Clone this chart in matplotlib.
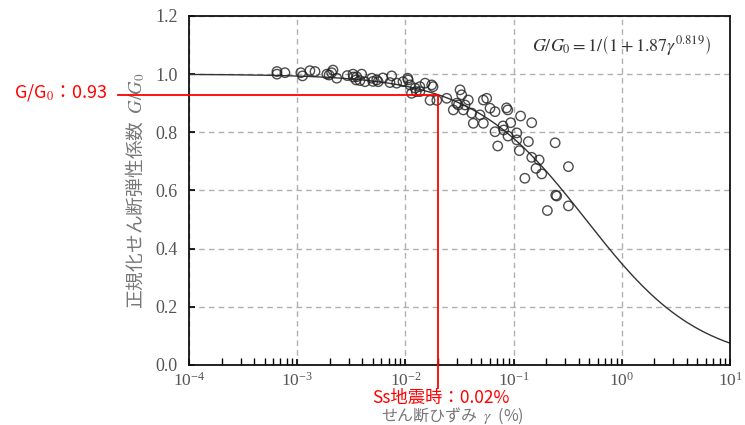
import numpy as np
import matplotlib
matplotlib.use("Agg")
import matplotlib.pyplot as plt

plt.rcParams['font.family'] = ['Liberation Serif', 'Noto Sans CJK JP', 'DejaVu Sans']
plt.rcParams['mathtext.fontset'] = 'stix'

# measured points (shear strain %, G/G0)
gamma = [6.5e-4, 7.7e-4, 6.5e-4, 1.08e-3, 1.12e-3, 1.31e-3, 1.46e-3, 1.88e-3, 2.08e-3, 2.14e-3,
         2.32e-3, 1.97e-3, 3.28e-3, 3.55e-3, 3.94e-3, 3.8e-3, 4.23e-3, 3.5e-3, 4.89e-3, 5.43e-3,
         6.2e-3, 5.6e-3, 7.46e-3, 7.2e-3, 8.3e-3, 9.5e-3, 1.06e-2, 1.05e-2, 1.14e-2, 1.10e-2,
         1.23e-2, 1.36e-2, 1.26e-2, 1.36e-2, 1.52e-2, 1.75e-2, 1.80e-2, 1.69e-2, 1.95e-2, 2.41e-2,
         3.2e-2, 3.31e-2, 2.98e-2, 3.81e-2, 2.77e-2, 3.08e-2, 3.56e-2, 3.43e-2, 4.1e-2, 4.24e-2,
         5.25e-2, 4.89e-2, 5.25e-2, 5.64e-2, 6.05e-2, 6.73e-2, 8.83e-2, 8.6e-2, 9.4e-2, 0.116,
         0.147, 0.0673, 0.0798, 0.0887, 0.107, 0.107, 0.137, 0.0713, 0.113, 0.147,
         0.172, 0.161, 0.182, 0.242, 0.321, 0.127, 0.25, 0.245, 0.321, 0.205,
         0.081, 2.9e-3, 3.3e-3, 5.0e-3]
ratio = [1.009, 1.005, 1.000, 1.005, 0.994, 1.012, 1.009, 1.000, 1.005, 1.014,
         0.986, 0.997, 1.000, 0.991, 1.000, 0.978, 0.974, 0.980, 0.986, 0.980,
         0.987, 0.974, 0.994, 0.971, 0.969, 0.974, 0.980, 0.986, 0.934, 0.963,
         0.952, 0.957, 0.940, 0.940, 0.969, 0.963, 0.957, 0.910, 0.910, 0.917,
         0.946, 0.929, 0.900, 0.911, 0.877, 0.894, 0.894, 0.877, 0.866, 0.831,
         0.831, 0.860, 0.911, 0.917, 0.883, 0.871, 0.877, 0.884, 0.833, 0.856,
         0.833, 0.802, 0.822, 0.787, 0.798, 0.774, 0.768, 0.753, 0.737, 0.714,
         0.705, 0.676, 0.657, 0.764, 0.682, 0.642, 0.581, 0.584, 0.547, 0.531,
         0.808, 0.995, 0.990, 0.975]

# fitted curve parameters
coef_a = 1.87
coef_b = 0.819
gamma_ss = 0.02
g_ss = 0.93

fig = plt.figure(figsize=(7.45, 4.25), dpi=100)
ax = fig.add_axes([0.2537, 0.1412, 0.7262, 0.8212])

xs = np.logspace(-4, 1, 400)
ax.plot(xs, 1 / (1 + coef_a * xs ** coef_b), color='#333333', lw=1.0, zorder=2)
ax.scatter(gamma, ratio, s=46, facecolors='none', edgecolors='#222222',
           linewidths=1.0, alpha=0.8, zorder=3)

ax.set_xscale('log')
ax.set_xlim(1e-4, 10)
ax.set_ylim(0, 1.2)
ax.set_yticks(np.arange(0, 1.21, 0.2))
ax.set_yticklabels(['%.1f' % v for v in np.arange(0, 1.21, 0.2)])
ax.grid(True, which='major', color='#b0b0b0', ls=(0, (4, 3)), lw=1.0)
ax.tick_params(which='both', direction='in', labelsize=13, labelcolor='#555555',
               top=False, right=False)
ax.tick_params(which='major', length=4, width=1.2, pad=8)
ax.tick_params(axis='x', which='major', pad=5, labelsize=12.5)
ax.tick_params(which='minor', length=5, width=1.0)
for sp in ax.spines.values():
    sp.set_linewidth(1.3)
    sp.set_color('#111111')

ax.text(0.965, 0.915, r'$G/G_0=1/\left(1+1.87\gamma^{0.819}\right)$', transform=ax.transAxes,
        ha='right', va='center', fontsize=13, color='#333333')

ax.set_ylabel('正規化せん断弾性係数  $G/G_0$', family=['Noto Sans CJK JP'],
              fontsize=13.5, color='#777777', labelpad=6)
fig.text(0.607, 0.0212, 'せん断ひずみ  $\\gamma$  (%)', family=['Noto Sans CJK JP'],
         fontsize=11.5, color='#777777', ha='center', va='center')

# red annotation lines
ax.plot([10 ** -4.656, gamma_ss], [g_ss, g_ss], color='red', lw=1.3, clip_on=False, zorder=5)
ax.plot([gamma_ss, gamma_ss], [g_ss, -0.08], color='red', lw=1.3, clip_on=False, zorder=5)
fig.text(0.082, 0.782, 'G/G$_0$：0.93', family=['Noto Sans CJK JP'], fontsize=13,
         color='red', ha='center', va='center')
fig.text(0.592, 0.0635, 'Ss地震時：0.02%', family=['Noto Sans CJK JP'], fontsize=12.5,
         color='red', ha='center', va='center')

fig.savefig('out.png', dpi=100)
